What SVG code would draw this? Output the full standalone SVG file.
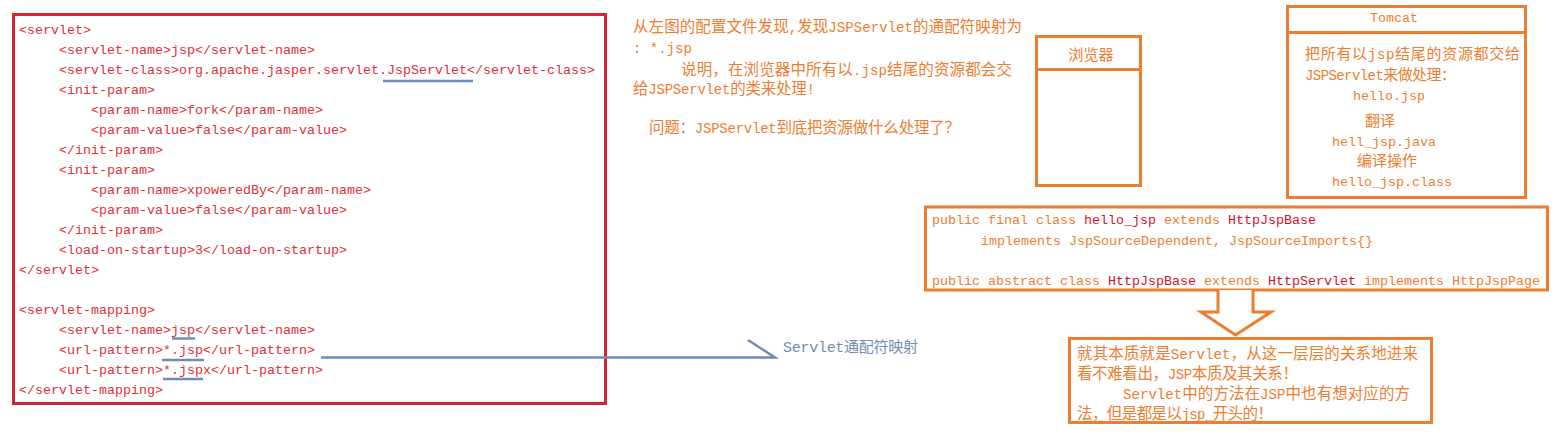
<svg xmlns="http://www.w3.org/2000/svg" width="1562" height="437" viewBox="0 0 1562 437">
<style>
text{font-family:"Liberation Mono","Noto Sans CJK SC",monospace;}
.code{font-size:13.33px;fill:#dc3038;}
.box-red{fill:none;stroke:#d7232f;stroke-width:3;}
.box-or{fill:#fff;stroke:#ed7d31;stroke-width:3;}
.or{fill:#ed7d31;}
.dk{fill:#d0122c;}
.cj{font-size:15.5px;fill:#ed7d31;}
.cj15{font-size:15px;fill:#ed7d31;}
.m{font-size:14px;}
.mono{font-size:13.33px;fill:#ed7d31;}
.ul{stroke:#6f8db4;stroke-width:2.5;fill:none;}
.lbl{font-size:15px;fill:#6f8db4;}
</style>
<rect width="1562" height="437" fill="#fff"/>

<g id="node-config">
<rect class="box-red" x="13.5" y="14.5" width="592" height="389"/>
<text class="code" x="19" y="34">&lt;servlet&gt;</text>
<text class="code" x="59" y="54">&lt;servlet-name&gt;jsp&lt;/servlet-name&gt;</text>
<text class="code" x="59" y="74">&lt;servlet-class&gt;org.apache.jasper.servlet.JspServlet&lt;/servlet-class&gt;</text>
<text class="code" x="59" y="94">&lt;init-param&gt;</text>
<text class="code" x="91" y="114">&lt;param-name&gt;fork&lt;/param-name&gt;</text>
<text class="code" x="91" y="134">&lt;param-value&gt;false&lt;/param-value&gt;</text>
<text class="code" x="59" y="154">&lt;/init-param&gt;</text>
<text class="code" x="59" y="174">&lt;init-param&gt;</text>
<text class="code" x="91" y="194">&lt;param-name&gt;xpoweredBy&lt;/param-name&gt;</text>
<text class="code" x="91" y="214">&lt;param-value&gt;false&lt;/param-value&gt;</text>
<text class="code" x="59" y="234">&lt;/init-param&gt;</text>
<text class="code" x="59" y="254">&lt;load-on-startup&gt;3&lt;/load-on-startup&gt;</text>
<text class="code" x="19" y="274">&lt;/servlet&gt;</text>
<text class="code" x="19" y="314">&lt;servlet-mapping&gt;</text>
<text class="code" x="59" y="334">&lt;servlet-name&gt;jsp&lt;/servlet-name&gt;</text>
<text class="code" x="59" y="354">&lt;url-pattern&gt;*.jsp&lt;/url-pattern&gt;</text>
<text class="code" x="59" y="374">&lt;url-pattern&gt;*.jspx&lt;/url-pattern&gt;</text>
<text class="code" x="19" y="394">&lt;/servlet-mapping&gt;</text>
<line class="ul" x1="383" y1="81" x2="473" y2="81"/>
<line class="ul" x1="172" y1="338.5" x2="195" y2="338.5"/>
<line class="ul" x1="162" y1="360" x2="204" y2="360"/>
<line class="ul" x1="163" y1="379" x2="203" y2="379"/>
</g>

<g id="node-note">
<text class="cj" x="633" y="32" textLength="389" lengthAdjust="spacing">从左图的配置文件发现<tspan class="m">,</tspan>发现<tspan class="m">JSPServlet</tspan>的通配符映射为</text>
<text class="cj" x="633" y="52.5"><tspan class="m">: *.jsp</tspan></text>
<text class="cj" x="681" y="74.5" textLength="331" lengthAdjust="spacing">说明，在浏览器中所有以<tspan class="m">.jsp</tspan>结尾的资源都会交</text>
<text class="cj" x="633" y="93.5" textLength="182" lengthAdjust="spacing">给<tspan class="m">JSPServlet</tspan>的类来处理<tspan class="m">!</tspan></text>
<text class="cj" x="649" y="132.5" textLength="311" lengthAdjust="spacing">问题：<tspan class="m">JSPServlet</tspan>到底把资源做什么处理了？</text>
</g>

<g id="node-browser">
<rect class="box-or" x="1036.5" y="36.5" width="104" height="149"/>
<line x1="1036.5" y1="69.5" x2="1140.5" y2="69.5" stroke="#ed7d31" stroke-width="3"/>
<text class="cj15" x="1091" y="59.5" text-anchor="middle">浏览器</text>
</g>

<g id="node-tomcat">
<rect class="box-or" x="1287.5" y="6.5" width="238" height="191"/>
<line x1="1287.5" y1="32.5" x2="1525.5" y2="32.5" stroke="#ed7d31" stroke-width="3"/>
<text class="mono" x="1394" y="22" text-anchor="middle">Tomcat</text>
<text class="cj15" x="1305" y="58.5" textLength="215" lengthAdjust="spacing">把所有以<tspan class="m">jsp</tspan>结尾的资源都交给</text>
<text class="cj15" x="1305" y="79.5" textLength="151" lengthAdjust="spacing"><tspan class="m">JSPServlet</tspan>来做处理：</text>
<text class="mono" x="1353" y="100">hello.jsp</text>
<text class="cj15" x="1365" y="126">翻译</text>
<text class="mono" x="1332" y="146">hell_jsp.java</text>
<text class="cj15" x="1357" y="166">编译操作</text>
<text class="mono" x="1332" y="186">hello_jsp.class</text>
</g>

<g id="node-classes">
<rect class="box-or" x="925.5" y="207" width="622" height="83"/>
<text class="mono" x="932" y="224">public final class <tspan class="dk">hello_jsp</tspan> extends <tspan class="dk">HttpJspBase</tspan></text>
<text class="mono" x="981" y="245">implements JspSourceDependent, JspSourceImports{}</text>
<text class="mono" x="932" y="285">public abstract class <tspan class="dk">HttpJspBase</tspan> extends <tspan class="dk">HttpServlet</tspan> implements HttpJspPage</text>
</g>

<g id="node-summary">
<rect class="box-or" x="1069.5" y="338.5" width="362" height="84"/>
<text class="cj" x="1077" y="358.5" textLength="341" lengthAdjust="spacing">就其本质就是<tspan class="m">Servlet</tspan>，从这一层层的关系地进来</text>
<text class="cj" x="1077" y="378.5" textLength="221" lengthAdjust="spacing">看不难看出，<tspan class="m">JSP</tspan>本质及其关系！</text>
<text class="cj" x="1123" y="398.5" textLength="287" lengthAdjust="spacing"><tspan class="m">Servlet</tspan>中的方法在<tspan class="m">JSP</tspan>中也有想对应的方</text>
<text class="cj" x="1077" y="418.5" textLength="196" lengthAdjust="spacing">法，但是都是以<tspan class="m">jsp_</tspan>开头的！</text>
</g>

<g id="connectors">
<polyline class="ul" points="321,357.5 775,357.5 748,340"/>
<text class="lbl" x="783" y="352" textLength="135" lengthAdjust="spacing">Servlet通配符映射</text>
<polyline points="1218,290 1218,312 1201,312 1235.5,335 1271,312 1253,312 1253,290" fill="#fff" stroke="#ed7d31" stroke-width="3"/>
</g>
</svg>
